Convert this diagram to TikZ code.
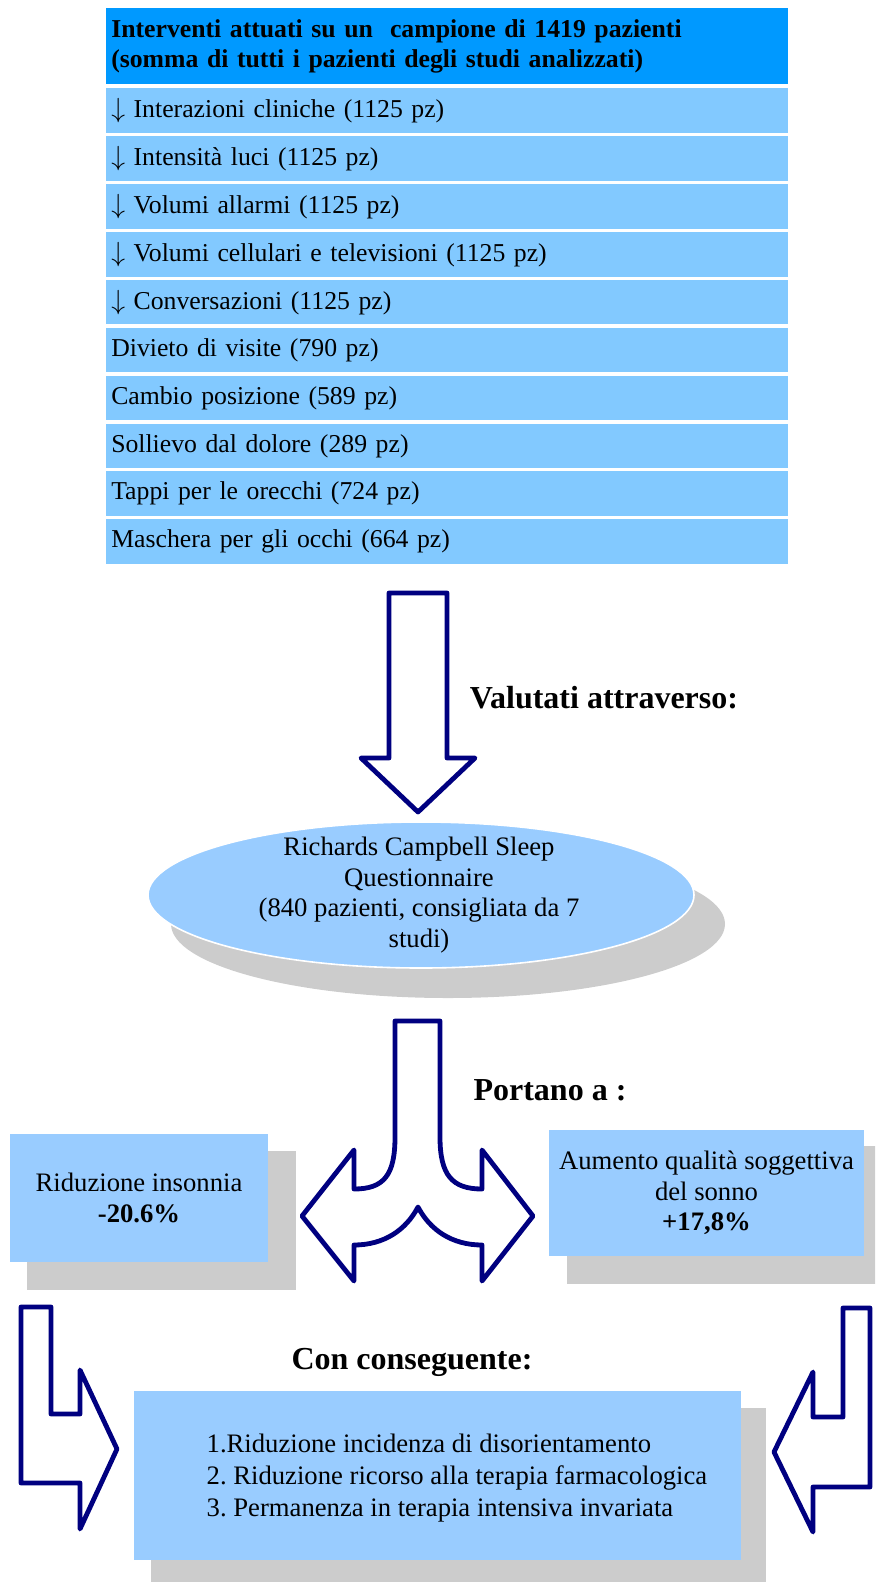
\documentclass[tikz,border=0pt]{standalone}
\usepackage{fontspec}
\setmainfont{Liberation Serif}
\usetikzlibrary{positioning,shapes.geometric}

\definecolor{headblue}{RGB}{0,153,255}
\definecolor{rowblue}{RGB}{130,201,255}
\definecolor{softblue}{RGB}{153,204,255}
\definecolor{shadowgray}{RGB}{204,204,204}
\definecolor{arrownavy}{RGB}{0,0,128}
\frenchspacing

\begin{document}
\begin{tikzpicture}[x=0.75pt,y=-0.75pt,
    txt/.style={font=\fontsize{20}{23}\selectfont},
    bigtxt/.style={font=\fontsize{24}{28}\selectfont\bfseries},
    rowbox/.style={font=\fontsize{19.3}{22.5}\selectfont,fill=rowblue,anchor=north west,minimum width=511.5pt,minimum height=33.4pt,text width=504pt,align=left,inner xsep=3.75pt},
    softbox/.style={txt,fill=softblue,align=center},
    shadowbox/.style={fill=shadowgray},
    blockarrow/.style={draw=arrownavy,fill=white,line width=3.6pt,line join=round}]
    \clip (0,0) rectangle (875,1582);

    % Interventions table
    \node[rowbox,fill=headblue,minimum height=57pt,font=\fontsize{19.3}{22.5}\selectfont\bfseries] (head) at (106,8) {Interventi attuati su un\ \ campione di 1419 pazienti\\(somma di tutti i pazienti degli studi analizzati)};
    \node[rowbox] (row1) at (106,88) {$\downarrow$ Interazioni cliniche (1125 pz)};
    \node[rowbox] (row2) at (106,135.9) {$\downarrow$ Intensità luci (1125 pz)};
    \node[rowbox] (row3) at (106,183.8) {$\downarrow$ Volumi allarmi (1125 pz)};
    \node[rowbox] (row4) at (106,231.7) {$\downarrow$ Volumi cellulari e televisioni (1125 pz)};
    \node[rowbox] (row5) at (106,279.6) {$\downarrow$ Conversazioni (1125 pz)};
    \node[rowbox] (row6) at (106,327.5) {Divieto di visite (790 pz)};
    \node[rowbox] (row7) at (106,375.4) {Cambio posizione (589 pz)};
    \node[rowbox] (row8) at (106,423.3) {Sollievo dal dolore (289 pz)};
    \node[rowbox] (row9) at (106,471.2) {Tappi per le orecchi (724 pz)};
    \node[rowbox] (row10) at (106,519.1) {Maschera per gli occhi (664 pz)};

    % Evaluation
    \draw[blockarrow] (389,593) -- (447,593) -- (447,758) -- (475,758) -- (418,812) -- (361,758) -- (389,758) -- cycle;
    \node[bigtxt] (valutati) at (604,698) {Valutati attraverso:};
    \fill[shadowgray] (448,924) ellipse [x radius=207.75pt, y radius=55.5pt];
    \filldraw[fill=softblue,draw=white,line width=1.2pt] (421,895) ellipse [x radius=204.75pt, y radius=54.75pt];
    \node[txt,align=center] (rcsq) at (419,895) {Richards Campbell Sleep\\Questionnaire\\(840 pazienti, consigliata da 7\\studi)};

    % Outcomes
    \draw[blockarrow] (395,1021) -- (440,1021) -- (440,1137)
        .. controls (440,1175) and (452,1189) .. (482,1189)
        -- (482,1150) -- (533,1216) -- (482,1281) -- (482,1245)
        .. controls (452,1245) and (430,1230) .. (418,1207)
        .. controls (406,1230) and (384,1245) .. (354,1245)
        -- (354,1281) -- (302,1216) -- (354,1150) -- (354,1189)
        .. controls (384,1189) and (395,1175) .. (395,1137) -- cycle;
    \node[bigtxt] (portano) at (550,1090) {Portano a :};
    \fill[shadowbox] (27,1151) rectangle (296,1290);
    \node[softbox,minimum width=193.5pt,minimum height=96pt] (insonnia) at (139,1198) {Riduzione insonnia\\\textbf{-20.6\%}};
    \fill[shadowbox] (567,1146) rectangle (881,1284);
    \node[softbox,minimum width=236.25pt,minimum height=94.5pt] (qualita) at (706.5,1193) {Aumento qualità soggettiva\\del sonno\\\textbf{+17,8\%}};

    % Consequences
    \draw[blockarrow] (21,1307) -- (51,1307) -- (51,1414) -- (80,1414) -- (80,1370) -- (117,1449) -- (80,1529) -- (80,1483) -- (21,1483) -- cycle;
    \draw[blockarrow] (870,1308) -- (843,1308) -- (843,1417) -- (813,1417) -- (813,1372) -- (774,1452) -- (813,1532) -- (813,1487) -- (870,1487) -- cycle;
    \node[bigtxt] (conseguente) at (412,1362) {Con conseguente:};
    \fill[shadowbox] (151,1408) rectangle (766,1590);
    \node[softbox,minimum width=455.25pt,minimum height=126.75pt] (cons) at (437.5,1475.5) {};
    \node[txt,align=left,anchor=west,font=\fontsize{20}{24}\selectfont] (constext) at (202,1478) {1.Riduzione incidenza di disorientamento\\2. Riduzione ricorso alla terapia farmacologica\\3. Permanenza in terapia intensiva invariata};
\end{tikzpicture}
\end{document}
